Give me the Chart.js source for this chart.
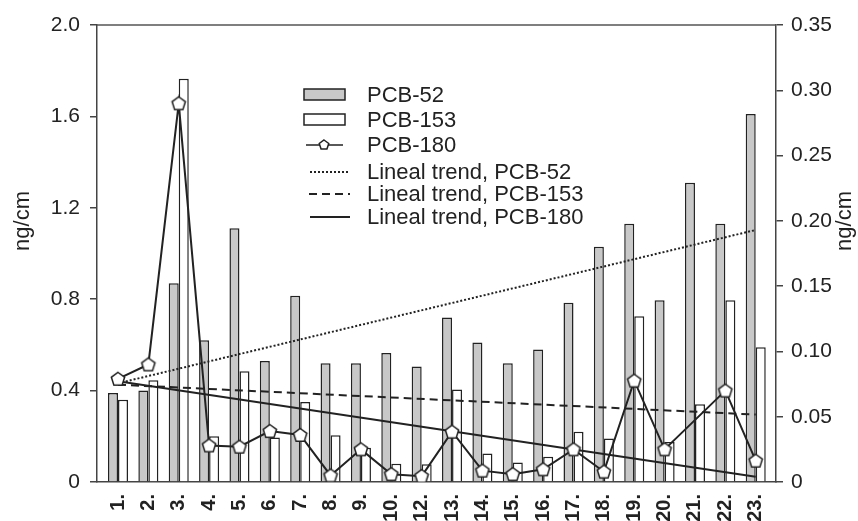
<!DOCTYPE html>
<html>
<head>
<meta charset="utf-8">
<script src="https://cdn.jsdelivr.net/npm/chart.js@4"></script>
<style>
  html, body { margin: 0; padding: 0; background: #fff; }
  #wrap { width: 858px; height: 521px; }
</style>
</head>
<body>
<div id="wrap"><canvas id="chart" width="858" height="521"></canvas></div>
<script>
// values (left axis units unless noted)
const categories = ['1.', '2.', '3.', '4.', '5.', '6.', '7.', '8.', '9.', '10.', '12.',
  '13.', '14.', '15.', '16.', '17.', '18.', '19.', '20.', '21.', '22.', '23.'];
const pcb52 = [0.39, 0.40, 0.87, 0.62, 1.11, 0.53, 0.815, 0.52, 0.52, 0.565, 0.505,
  0.72, 0.61, 0.52, 0.58, 0.785, 1.03, 1.13, 0.795, 1.31, 1.13, 1.61];
const pcb153 = [0.36, 0.445, 1.765, 0.20, 0.485, 0.195, 0.35, 0.205, 0.15, 0.08, 0.078,
  0.405, 0.125, 0.085, 0.11, 0.22, 0.19, 0.725, 0.175, 0.34, 0.795, 0.59];
// right axis units
const pcb180 = [0.079, 0.090, 0.290, 0.028, 0.027, 0.039, 0.036, 0.005, 0.025, 0.006, 0.0045,
  0.0385, 0.0087, 0.006, 0.0097, 0.025, 0.0079, 0.0776, 0.025, null, 0.070, 0.0163];
// trend lines: value at first and last category
const trend52 = [0.432, 1.103];
const trend153 = [0.426, 0.295];
const trend180 = [0.0772, 0.0041]; // right axis units

const leftTicks = ['0', '0.4', '0.8', '1.2', '1.6', '2.0'];
const rightTicks = ['0', '0.05', '0.10', '0.15', '0.20', '0.25', '0.30', '0.35'];
const legendLabels = ['PCB-52', 'PCB-153', 'PCB-180',
  'Lineal trend, PCB-52', 'Lineal trend, PCB-153', 'Lineal trend, PCB-180'];
const axisTitle = 'ng/cm';

const FONT = '"Liberation Sans", Arial, sans-serif';
const INK = '#222';

const toPoints = arr => arr.map((v, i) => ({ x: i, y: v })).filter(p => p.y !== null);
const trendPoints = t => [{ x: 0, y: t[0] }, { x: categories.length - 1, y: t[1] }];

function pentagon(r) {
  const s = Math.ceil(r * 2 + 4);
  const c = document.createElement('canvas');
  c.width = s; c.height = s;
  const g = c.getContext('2d');
  drawPentagon(g, s / 2, s / 2 + 0.5, r);
  return c;
}
function drawPentagon(g, cx, cy, r) {
  g.beginPath();
  for (let i = 0; i < 5; i++) {
    const a = -Math.PI / 2 + i * 2 * Math.PI / 5;
    const x = cx + r * Math.cos(a), y = cy + r * Math.sin(a);
    if (i) g.lineTo(x, y); else g.moveTo(x, y);
  }
  g.closePath();
  g.fillStyle = '#fff';
  g.fill();
  g.lineWidth = 1.5;
  g.strokeStyle = INK;
  g.stroke();
}

// top frame line + axis titles + legend inside the plot
const extras = {
  id: 'extras',
  afterDraw(chart) {
    const g = chart.ctx;
    const a = chart.chartArea;
    g.save();
    g.strokeStyle = '#555';
    g.lineWidth = 1.5;
    g.beginPath();
    g.moveTo(a.left, a.top);
    g.lineTo(a.right, a.top);
    g.stroke();

    g.fillStyle = INK;
    g.font = '22px ' + FONT;
    g.textAlign = 'center';
    g.textBaseline = 'middle';
    [[23, 221], [845, 221]].forEach(([x, y]) => {
      g.save();
      g.translate(x, y);
      g.rotate(-Math.PI / 2);
      g.fillText(axisTitle, 0, 0);
      g.restore();
    });

    // legend
    const ys = [95, 120, 145, 172, 194, 217];
    g.lineWidth = 1.5;
    g.strokeStyle = INK;
    g.fillStyle = '#c8c8c8';
    g.fillRect(304, 89, 41, 11);
    g.strokeRect(304, 89, 41, 11);
    g.fillStyle = '#fff';
    g.fillRect(304, 114, 41, 11);
    g.strokeRect(304, 114, 41, 11);
    g.beginPath();
    g.moveTo(306, ys[2]); g.lineTo(343, ys[2]);
    g.stroke();
    drawPentagon(g, 324, ys[2], 5);
    g.strokeStyle = INK;
    g.lineWidth = 2;
    g.setLineDash([2, 2]);
    g.beginPath(); g.moveTo(310, ys[3]); g.lineTo(348, ys[3]); g.stroke();
    g.lineWidth = 2;
    g.setLineDash([8, 5]);
    g.beginPath(); g.moveTo(309, ys[4]); g.lineTo(350, ys[4]); g.stroke();
    g.setLineDash([]);
    g.beginPath(); g.moveTo(310, ys[5]); g.lineTo(350, ys[5]); g.stroke();

    g.fillStyle = INK;
    g.font = '22px ' + FONT;
    g.textAlign = 'left';
    legendLabels.forEach((t, i) => g.fillText(t, 367, ys[i] + 1));
    g.restore();
  }
};

const n = categories.length;
const ctx = document.getElementById('chart').getContext('2d');
new Chart(ctx, {
  type: 'bar',
  data: {
    datasets: [
      {
        label: 'PCB-52',
        data: toPoints(pcb52),
        backgroundColor: '#c8c8c8',
        borderColor: INK,
        borderWidth: 1.5,
        yAxisID: 'y',
        categoryPercentage: 0.66,
        barPercentage: 1.0,
        order: 10,
      },
      {
        label: 'PCB-153',
        data: toPoints(pcb153),
        backgroundColor: '#ffffff',
        borderColor: INK,
        borderWidth: 1.5,
        yAxisID: 'y',
        categoryPercentage: 0.66,
        barPercentage: 1.0,
        order: 10,
      },
      {
        type: 'line',
        label: 'Lineal trend, PCB-52',
        data: trendPoints(trend52),
        borderColor: INK,
        borderWidth: 2,
        borderDash: [2, 2],
        pointRadius: 0,
        yAxisID: 'y',
        order: 3,
      },
      {
        type: 'line',
        label: 'Lineal trend, PCB-153',
        data: trendPoints(trend153),
        borderColor: INK,
        borderWidth: 2,
        borderDash: [8, 5],
        pointRadius: 0,
        yAxisID: 'y',
        order: 3,
      },
      {
        type: 'line',
        label: 'Lineal trend, PCB-180',
        data: trendPoints(trend180),
        borderColor: INK,
        borderWidth: 2,
        pointRadius: 0,
        yAxisID: 'y2',
        order: 3,
      },
      {
        type: 'line',
        label: 'PCB-180',
        data: toPoints(pcb180),
        borderColor: INK,
        borderWidth: 2,
        pointStyle: pentagon(7),
        pointRadius: 7,
        tension: 0,
        yAxisID: 'y2',
        order: 1,
      },
    ],
  },
  options: {
    responsive: false,
    animation: false,
    layout: { padding: { top: 25, left: 0, right: 0, bottom: 0 } },
    plugins: {
      legend: { display: false },
      tooltip: { enabled: false },
    },
    scales: {
      x: {
        type: 'linear',
        offset: false,
        min: -0.6915,
        max: n - 1 + 0.668,
        afterBuildTicks: s => { s.ticks = categories.map((_, i) => ({ value: i })); },
        afterFit: s => { s.height = 39; },
        grid: { drawOnChartArea: false, drawTicks: false },
        border: { color: '#444', width: 1.5 },
        ticks: {
          autoSkip: false,
          minRotation: 90,
          maxRotation: 90,
          padding: 12,
          color: INK,
          font: { family: FONT, size: 20, weight: 'bold' },
          callback: v => categories[v],
        },
      },
      y: {
        position: 'left',
        min: 0,
        max: 2.0,
        afterFit: s => { s.width = 97; },
        grid: { drawOnChartArea: false, drawTicks: true, tickLength: 7, color: '#444', lineWidth: 1.5 },
        border: { color: '#444', width: 1.5 },
        ticks: {
          stepSize: 0.4,
          padding: 10,
          color: INK,
          font: { family: FONT, size: 21 },
          callback: (v, i) => leftTicks[i],
        },
      },
      y2: {
        position: 'right',
        min: 0,
        max: 0.35,
        afterFit: s => { s.width = 82; },
        grid: { drawOnChartArea: false, drawTicks: true, tickLength: 7, color: '#444', lineWidth: 1.5 },
        border: { color: '#444', width: 1.5 },
        ticks: {
          stepSize: 0.05,
          padding: 8,
          color: INK,
          font: { family: FONT, size: 21 },
          callback: (v, i) => rightTicks[i],
        },
      },
    },
  },
  plugins: [extras],
});
</script>
</body>
</html>
